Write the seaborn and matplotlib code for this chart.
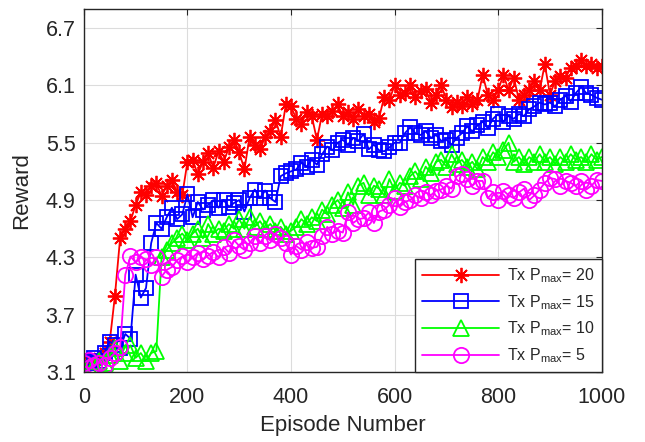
import numpy as np
import pandas as pd
import matplotlib
matplotlib.use("Agg")
import matplotlib.pyplot as plt
import seaborn as sns

episodes = list(range(0, 1001, 10))

reward_p20 = [3.2, 3.22, 3.2, 3.25, 3.3, 3.42, 3.9, 4.5, 4.6, 4.68,
              4.85, 4.98, 4.95, 5.05, 5.08, 4.94, 5.05, 5.11, 4.98, 4.95,
              5.3, 5.32, 5.17, 5.3, 5.39, 5.24, 5.41, 5.3, 5.45, 5.53,
              5.4, 5.22, 5.56, 5.48, 5.43, 5.56, 5.62, 5.74, 5.56, 5.9,
              5.88, 5.75, 5.7, 5.82, 5.78, 5.53, 5.8, 5.78, 5.83, 5.9,
              5.78, 5.82, 5.75, 5.85, 5.78, 5.8, 5.72, 5.76, 5.98, 5.95,
              6.1, 6.0, 6.02, 6.1, 5.98, 6.04, 6.06, 5.92, 6.0, 6.1,
              5.95, 5.87, 5.93, 5.88, 5.98, 5.9, 5.95, 6.21, 6.0, 5.95,
              6.05, 6.21, 6.05, 6.18, 5.95, 6.0, 6.05, 6.15, 6.05, 6.32,
              6.0, 6.15, 6.2, 6.18, 6.28, 6.3, 6.37, 6.3, 6.32, 6.28, 6.3]

reward_p15 = [3.22, 3.2, 3.25, 3.22, 3.3, 3.42, 3.38, 3.35, 3.5, 3.45,
              4.12, 3.88, 3.98, 4.45, 4.66, 4.6, 4.72, 4.82, 4.7, 4.75,
              4.96, 4.72, 4.88, 4.8, 4.85, 4.9, 4.82, 4.9, 4.83, 4.87,
              4.9, 4.78, 4.92, 5.01, 4.92, 5.0, 4.92, 4.88, 5.15, 5.18,
              5.2, 5.22, 5.29, 5.25, 5.32, 5.27, 5.38, 5.46, 5.42, 5.5,
              5.53, 5.48, 5.55, 5.52, 5.59, 5.43, 5.48, 5.42, 5.41, 5.45,
              5.5, 5.5, 5.6, 5.66, 5.6, 5.58, 5.62, 5.55, 5.58, 5.52,
              5.53, 5.48, 5.55, 5.6, 5.67, 5.62, 5.68, 5.72, 5.65, 5.75,
              5.8, 5.72, 5.78, 5.75, 5.8, 5.78, 5.85, 5.88, 5.92, 5.9,
              5.92, 5.88, 5.95, 5.99, 5.93, 6.02, 6.08, 6.02, 6.0, 5.97, 5.95]

reward_p10 = [3.12, 3.15, 3.18, 3.22, 3.2, 3.28, 3.35, 3.22, 3.3, 3.38,
              3.25, 3.3, 3.22, 3.3, 3.32, 4.3, 4.38, 4.45, 4.5, 4.55,
              4.48, 4.55, 4.6, 4.5, 4.65, 4.55, 4.6, 4.58, 4.65, 4.6,
              4.7, 4.6, 4.72, 4.62, 4.68, 4.6, 4.65, 4.58, 4.62, 4.55,
              4.58, 4.62, 4.7, 4.65, 4.72, 4.68, 4.8, 4.75, 4.85, 4.9,
              4.82, 4.98, 4.85, 5.05, 5.08, 4.95, 5.05, 5.02, 4.95, 5.12,
              5.0, 5.08, 5.05, 5.15, 5.2, 5.12, 5.25, 5.18, 5.3, 5.32,
              5.25, 5.38, 5.28, 5.32, 5.25, 5.3, 5.22, 5.35, 5.3, 5.4,
              5.35, 5.42, 5.5, 5.3, 5.35, 5.28, 5.35, 5.3, 5.38, 5.3,
              5.35, 5.28, 5.35, 5.3, 5.38, 5.32, 5.35, 5.3, 5.38, 5.32, 5.35]

reward_p5 = [3.2, 3.23, 3.17, 3.2, 3.18, 3.25, 3.3, 3.36, 4.12, 4.31,
             4.25, 4.3, 4.28, 4.22, 4.3, 4.1, 4.17, 4.2, 4.27, 4.31,
             4.25, 4.3, 4.35, 4.28, 4.32, 4.36, 4.3, 4.41, 4.35, 4.48,
             4.42, 4.38, 4.45, 4.52, 4.45, 4.52, 4.48, 4.55, 4.5, 4.45,
             4.33, 4.42, 4.38, 4.46, 4.4, 4.41, 4.52, 4.62, 4.55, 4.58,
             4.56, 4.77, 4.66, 4.7, 4.71, 4.77, 4.66, 4.78, 4.8, 4.85,
             4.92, 4.83, 4.88, 4.9, 4.95, 4.92, 4.98, 4.95, 5.0, 5.01,
             5.05, 5.02, 5.15, 5.17, 5.12, 5.05, 5.1, 5.1, 4.92, 4.98,
             4.9, 5.0, 4.95, 4.92, 4.98, 5.02, 4.9, 4.95, 5.01, 5.08,
             5.13, 5.12, 5.05, 5.1, 5.08, 5.05, 5.1, 5.01, 5.05, 5.11, 5.1]

labels = ["20", "15", "10", "5"]
x_ticks = [0, 200, 400, 600, 800, 1000]
y_ticks = [3.1, 3.7, 4.3, 4.9, 5.5, 6.1, 6.7]

sns.set_theme(style="white")
plt.rcParams['font.family'] = ['Liberation Sans', 'DejaVu Sans']
plt.rcParams['mathtext.fontset'] = 'custom'
plt.rcParams['mathtext.rm'] = 'Liberation Sans'

fig = plt.figure(figsize=(6.45, 4.42), dpi=100)
ax = fig.add_axes([0.130, 0.158, 0.803, 0.822])

series = [reward_p20, reward_p15, reward_p10, reward_p5]
colors = ["#FF0000", "#0000FF", "#00FF00", "#FF00FF"]
markers = [(8, 2, 0), "s", "^", "o"]
msizes = [11, 10, 11, 11]

for vals, col, mk, ms, lab in zip(series, colors, markers, msizes, labels):
    df = pd.DataFrame({"Episode": episodes, "Reward": vals})
    sns.lineplot(data=df, x="Episode", y="Reward", ax=ax, color=col,
                 marker=mk, markersize=ms, markerfacecolor="none",
                 markeredgecolor=col, markeredgewidth=1.3, linewidth=1.3,
                 label=r"Tx P$_{\mathregular{max}}$= " + lab)

ax.set_xlim(0, 1000)
ax.set_ylim(3.1, 6.9)
ax.set_xticks(x_ticks)
ax.set_yticks(y_ticks)
ax.set_yticklabels([f"{v:.1f}" for v in y_ticks])
ax.grid(True, color="#DCDCDC", linewidth=0.8)
ax.set_axisbelow(True)
ax.tick_params(axis="both", direction="in", length=4, width=0.8,
               labelsize=15.5, colors="#262626", top=True, right=True,
               labelcolor="#262626")
ax.tick_params(axis="x", pad=11)
ax.tick_params(axis="y", pad=6)
for s in ax.spines.values():
    s.set_color("#262626")
    s.set_linewidth(1.0)
ax.set_xlabel("Episode Number", fontsize=16, color="#262626", labelpad=5)
ax.set_ylabel("Reward", fontsize=16, color="#262626", labelpad=10)

leg = ax.legend(loc="lower right", borderaxespad=0.0, fontsize=11.5,
                handlelength=4.8, labelspacing=0.5, fancybox=False,
                framealpha=1, edgecolor="#262626", borderpad=0.45,
                handletextpad=0.5)
leg.get_frame().set_linewidth(1.0)

fig.savefig("out.png", dpi=100)
